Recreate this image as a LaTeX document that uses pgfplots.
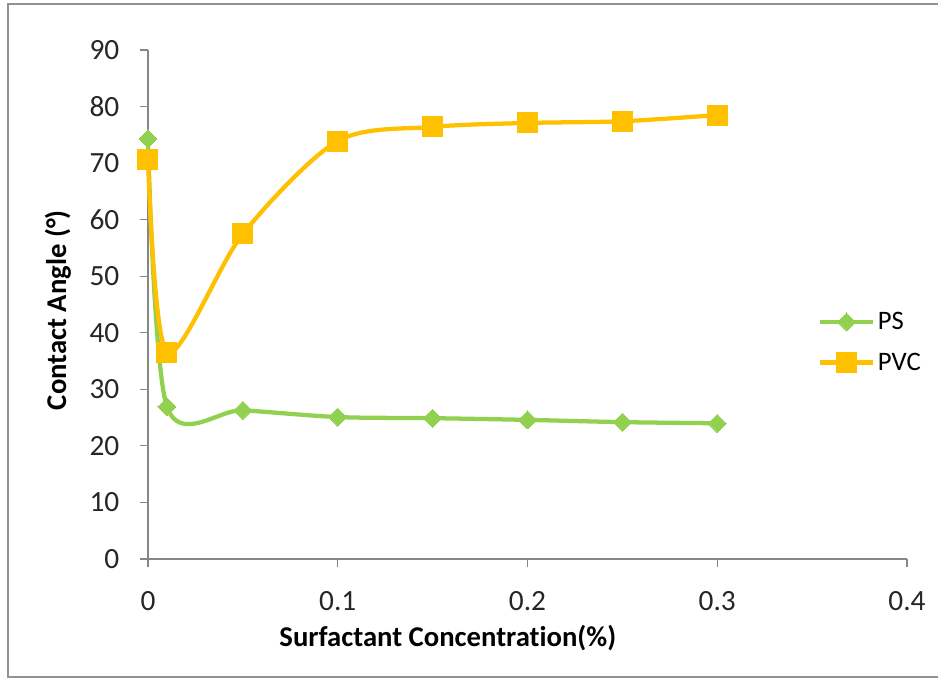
\documentclass[border=0pt]{standalone}
\usepackage{pgfplots}
\pgfplotsset{compat=1.18}
\usepackage{fontspec}
\setmainfont{Carlito}[Ligatures=NoCommon]
\definecolor{psgreen}{HTML}{92D050}
\definecolor{pvcorange}{HTML}{FFC000}
\definecolor{axgray}{HTML}{868686}
\begin{document}
\begin{tikzpicture}
\path[use as bounding box] (-111pt,-90pt) rectangle (592.5pt,419.25pt);
\begin{axis}[
  at={(0pt,0pt)}, anchor=south west,
  scale only axis, width=569.25pt, height=381.75pt,
  xmin=0, xmax=0.4, ymin=0, ymax=90,
  xtick={0,0.1,0.2,0.3,0.4}, ytick={0,10,...,90},
  axis lines=left, axis line style={-, axgray, line width=0.8pt},
  tick align=outside, major tick length=6pt,
  tick style={axgray, line width=0.8pt},
  /pgf/number format/assume math mode=true,
  /pgf/number format/fixed,
  ticklabel style={font=\fontsize{22}{26}\selectfont, text=black!85},
  yticklabel style={xshift=-12pt},
  xticklabel style={yshift=-15pt},
  xlabel={Surfactant Concentration(\%)},
  ylabel={Contact Angle (°)},
  label style={font=\bfseries\fontsize{21.5}{25}\selectfont},
  xlabel style={at={(axis description cs:0.395,0)}, anchor=center, yshift=-59pt},
  ylabel style={at={(axis description cs:0,0.489)}, anchor=center, yshift=67.5pt},
  clip=false,
  legend style={draw=none, fill=none, at={(axis description cs:0.877,0.426)}, anchor=west,
    font=\fontsize{20}{24}\selectfont, row sep=12pt, cells={anchor=west}},
  legend image code/.code={
    \draw[#1, mark repeat=2, mark phase=2] plot coordinates {(0cm,0cm) (0.7cm,0cm) (1.4cm,0cm)};
  },
]
\addplot[psgreen, line width=3.2pt, smooth, tension=0.5, mark=square*, mark size=4.77pt,
  mark options={rotate=45, solid, fill=psgreen, draw=psgreen, line width=0pt}]
  coordinates {(0,74.3) (0.01,26.9) (0.05,26.3) (0.1,25.1) (0.15,24.9) (0.2,24.6) (0.25,24.2) (0.3,24.0)};
\addlegendentry{PS}
\addplot[pvcorange, line width=3.2pt, smooth, tension=0.5, mark=square*, mark size=7.5pt,
  mark options={solid, fill=pvcorange, draw=pvcorange, line width=0pt}]
  coordinates {(0,70.7) (0.01,36.6) (0.05,57.5) (0.1,73.9) (0.15,76.4) (0.2,77.1) (0.25,77.4) (0.3,78.5)};
\addlegendentry{PVC}
\end{axis}
\draw[axgray!90, line width=1.5pt] (600pt,416.25pt) -- (-105pt,416.25pt) -- (-105pt,-88.5pt) -- (600pt,-88.5pt);
\end{tikzpicture}
\end{document}
